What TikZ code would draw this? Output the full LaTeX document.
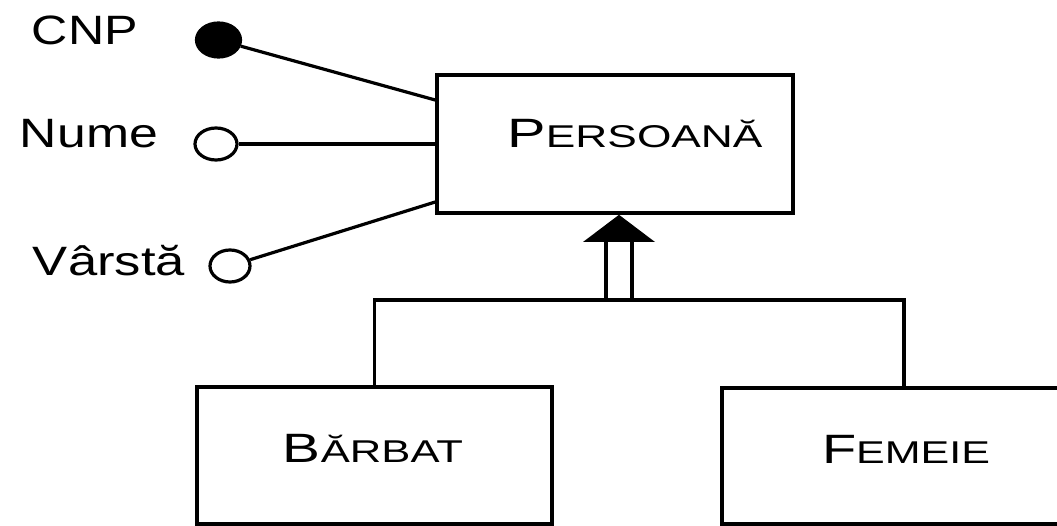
\documentclass[tikz,border=0pt]{standalone}
\usepackage{fontspec}
\setmainfont{Liberation Sans}
\usetikzlibrary{shapes.geometric}
\newcommand\smc[1]{{\fontsize{31.5}{36}\selectfont #1}}
\newcommand\fitw[2]{\resizebox{#1}{\height}{#2}}
\tikzset{
  lbl/.style={inner sep=0pt, anchor=base, font=\fontsize{41}{47}\selectfont},
  entbox/.style={draw, line width=3.6pt, rectangle, inner sep=0pt},
  attr/.style={draw, line width=3.2pt, ellipse, inner sep=0pt, fill=white},
  keyattr/.style={attr, fill=black},
  conn/.style={line width=3.2pt},
}
\begin{document}
\begin{tikzpicture}[x=1pt, y=-1pt, line join=miter]
\clip (0,0) rectangle (1057,526);
\fill[white] (0,0) rectangle (1057,526);
% entity boxes
\node[entbox, minimum width=356pt, minimum height=138pt] (per) at (615,144) {};
\node[entbox, minimum width=355pt, minimum height=137pt] (barb) at (374.5,455.5) {};
\node[entbox, minimum width=364pt, minimum height=136pt] (fem) at (904,456) {};
% entity labels
\node[lbl] (perl) at (635,148) {\fitw{255pt}{P\smc{ERSOANĂ}}};
\node[lbl] (barbl) at (373,462) {\fitw{180pt}{B\smc{ĂRBAT}}};
\node[lbl] (feml) at (906,463) {\fitw{168pt}{F\smc{EMEIE}}};
% attribute labels
\node[lbl] (cnpl) at (85,45) {\fitw{106pt}{CNP}};
\node[lbl] (numel) at (89,148) {\fitw{138pt}{Nume}};
\node[lbl] (varl) at (109,276) {\fitw{152pt}{Vârstă}};
% attribute circles
\node[keyattr, minimum width=44pt, minimum height=34pt] (cnpc) at (218.5,40) {};
\node[attr, minimum width=42pt, minimum height=32pt] (numec) at (216,144) {};
\node[attr, minimum width=40pt, minimum height=32pt] (varc) at (230,266) {};
% attribute connectors
\draw[conn] (cnpc) -- ([yshift=44pt]per.west);
\draw[conn] (numec) -- (per.west);
\draw[conn] (varc) -- ([yshift=-58pt]per.west);
% generalisation
\coordinate (hub) at (619,300);
\coordinate (tb) at (619,242);
\draw[conn] (barb.north) |- (hub) -| (fem.north);
\draw[conn] ([xshift=-13pt]hub) -- ([xshift=-13pt]tb);
\draw[conn] ([xshift=13pt]hub) -- ([xshift=13pt]tb);
\fill (per.south -| tb) -- ([xshift=-36pt]tb) -- ([xshift=36pt]tb) -- cycle;
\end{tikzpicture}
\end{document}
